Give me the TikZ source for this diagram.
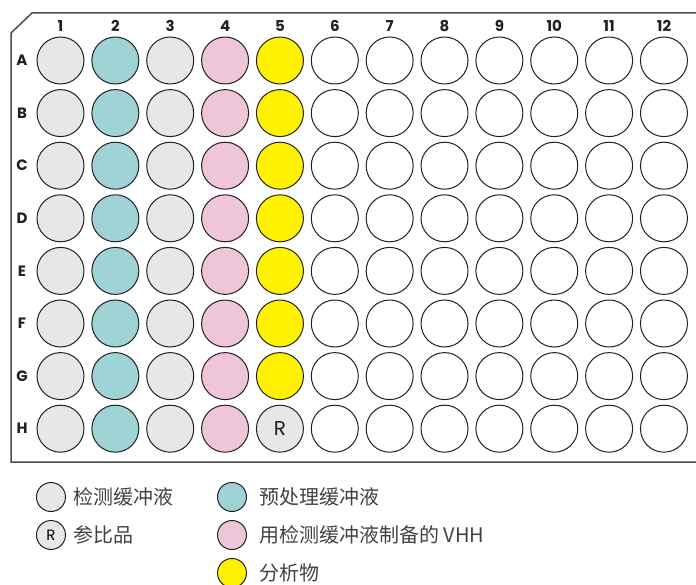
\documentclass[tikz,border=0pt]{standalone}
\usepackage{fontspec}
\usetikzlibrary{positioning}
\setmainfont{Poppins}
\newfontfamily\cjk{Noto Sans CJK SC}
\definecolor{buffgray}{HTML}{E6E7E8}
\definecolor{pretreat}{HTML}{A0D3D5}
\definecolor{vhhpink}{HTML}{EFC5D9}
\definecolor{analyte}{HTML}{FFF200}
\definecolor{welledge}{HTML}{231F20}
\definecolor{plateedge}{HTML}{4D4D4F}
\begin{document}
\begin{tikzpicture}[x=1pt,y=-1pt,
    well/.style={circle,draw=welledge,line width=1pt,minimum size=47pt,inner sep=0pt},
    keywell/.style={circle,draw=welledge,line width=1pt,minimum size=29pt,inner sep=0pt},
    axislab/.style={font=\fontsize{15}{15}\selectfont\bfseries,text=welledge,inner sep=0pt},
    keytext/.style={font=\fontsize{20}{20}\selectfont,text=welledge!85,inner sep=0pt,anchor=west}]
  \useasboundingbox (0,0) rectangle (696,585);
  % plate outline, runs off the right edge
  \draw[plateedge,line width=1.5pt] (696,13) -- (32,13) -- (11,33) -- (11,462) -- (696,462);
  \foreach \c in {1,...,12}
    \node[axislab] (col\c) at ({60.5+(\c-1)*54.86},26) {\c};
  \foreach \r/\five [count=\i] in {A/analyte,B/analyte,C/analyte,D/analyte,E/analyte,F/analyte,G/analyte,H/buffgray} {
    \node[axislab] (row\r) at (22,{60.5+(\i-1)*52.6}) {\r};
    \foreach \c/\fc in {1/buffgray,2/pretreat,3/buffgray,4/vhhpink,5/\five,6/white,7/white,8/white,9/white,10/white,11/white,12/white}
      \node[well,fill=\fc] (w\r\c) at ({60.5+(\c-1)*54.86},{60.5+(\i-1)*52.6}) {};
  }
  \node[font=\fontsize{20}{20}\selectfont,text=welledge] (refmark) at (wH5) {R};
  % legend
  \node[keywell,fill=buffgray] (key-assay) at (51,497) {};
  \node[keytext,right=7pt of key-assay.east] (lab-assay) {\cjk 检测缓冲液};
  \node[keywell,fill=buffgray,font=\fontsize{15}{15}\selectfont] (key-ref) at (51,535) {R};
  \node[keytext,right=7pt of key-ref.east] (lab-ref) {\cjk 参比品};
  \node[keywell,fill=pretreat] (key-pre) at (232,497) {};
  \node[keytext,right=12pt of key-pre.east] (lab-pre) {\cjk 预处理缓冲液};
  \node[keywell,fill=vhhpink] (key-vhh) at (232,535) {};
  \node[keytext,right=12pt of key-vhh.east] (lab-vhh) {\cjk 用检测缓冲液制备的 VHH};
  \node[keywell,fill=analyte] (key-ana) at (232,573) {};
  \node[keytext,right=12pt of key-ana.east] (lab-ana) {\cjk 分析物};
\end{tikzpicture}
\end{document}
